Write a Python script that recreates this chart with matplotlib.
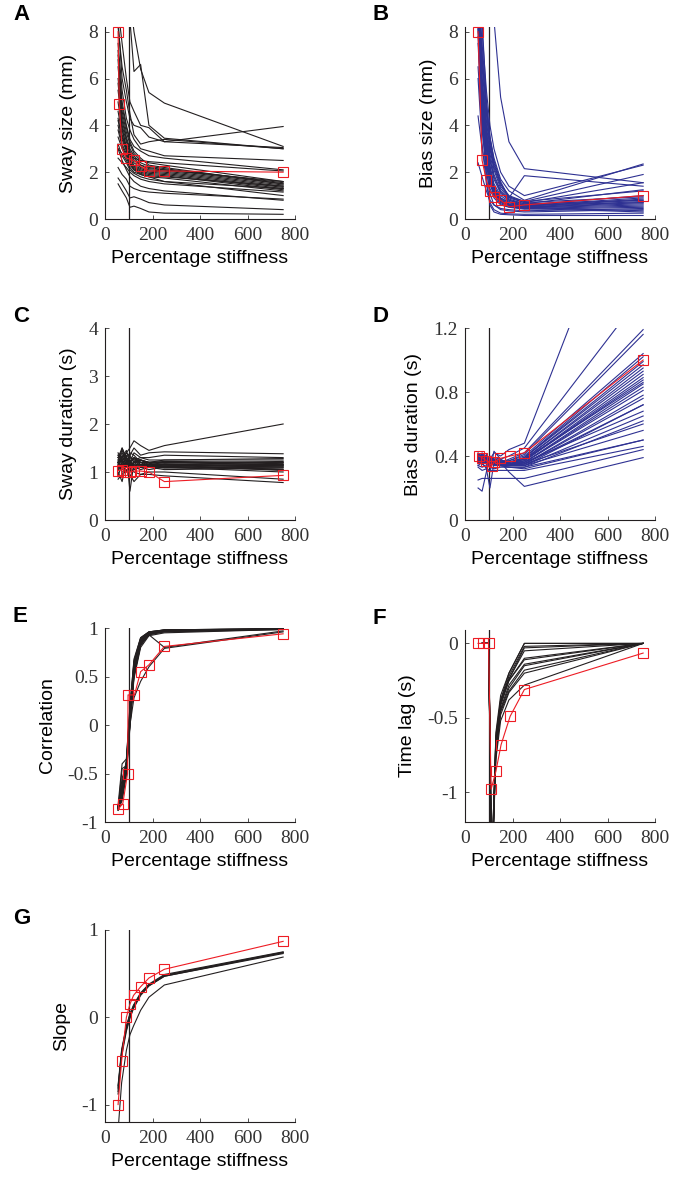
import numpy as np
import matplotlib
matplotlib.use("Agg")
import matplotlib.pyplot as plt

# stiffness levels (%) used for the subject lines
stiff = [55, 72, 90, 105, 122, 150, 185, 250, 750]

# A - sway size (mm), one row per subject
sway_size = [
    [14, 12, 10.5, 9.5, 8.0, 6.4, 5.4, 4.95, 3.1],
    [12, 10, 9.0, 8.5, 6.3, 6.6, 4.0, 3.45, 3.0],
    [9, 7.5, 6.0, 5.0, 4.6, 4.0, 3.9, 3.3, 3.95],
    [8.5, 6.0, 5.0, 4.3, 4.0, 3.9, 3.5, 3.3, 3.05],
    [8.2, 6.5, 5.5, 4.5, 3.6, 3.2, 3.3, 3.4, 3.0],
    [7.5, 5.5, 4.3, 3.8, 3.4, 3.0, 2.9, 2.7, 2.5],
    [7.0, 5.0, 4.0, 3.4, 3.1, 2.9, 2.7, 2.6, 2.1],
    [6.5, 4.6, 3.7, 3.2, 2.8, 2.5, 2.4, 2.3, 1.6],
    [6.0, 4.4, 3.5, 3.0, 2.7, 2.4, 2.25, 2.15, 1.55],
    [5.5, 4.0, 3.3, 2.8, 2.5, 2.3, 2.15, 2.1, 1.5],
    [5.0, 3.8, 3.1, 2.7, 2.4, 2.2, 2.1, 2.05, 1.45],
    [4.6, 3.6, 3.0, 2.6, 2.3, 2.15, 2.05, 2.0, 1.4],
    [4.3, 3.4, 2.9, 2.5, 2.25, 2.1, 2.0, 1.95, 1.35],
    [4.0, 3.2, 2.8, 2.4, 2.2, 2.05, 1.95, 1.9, 1.3],
    [3.8, 3.1, 2.7, 2.35, 2.15, 2.0, 1.9, 1.85, 1.25],
    [7.2, 4.8, 3.9, 3.3, 2.9, 2.6, 2.3, 2.2, 1.5],
    [3.5, 3.0, 2.6, 2.3, 2.1, 1.95, 1.85, 1.8, 1.4],
    [3.0, 2.8, 2.5, 2.2, 2.0, 1.9, 1.8, 1.75, 1.2],
    [6.8, 4.2, 3.4, 2.9, 2.6, 2.3, 2.2, 2.1, 1.6],
    [3.2, 2.7, 2.4, 2.1, 1.95, 1.8, 1.7, 1.6, 1.3],
    [2.6, 2.4, 2.2, 2.0, 1.85, 1.7, 1.6, 1.5, 1.15],
    [5.8, 3.9, 3.0, 2.4, 2.1, 1.9, 1.8, 1.6, 1.0],
    [3.0, 2.5, 2.1, 1.8, 1.6, 1.4, 1.3, 1.2, 0.8],
    [2.2, 1.9, 1.7, 1.4, 1.3, 1.2, 1.15, 1.1, 0.85],
    [1.75, 1.5, 1.2, 0.9, 0.95, 0.85, 0.7, 0.6, 0.4],
    [1.5, 1.2, 0.9, 0.5, 0.55, 0.45, 0.3, 0.25, 0.2],
    [4.2, 3.5, 3.0, 2.7, 2.6, 2.5, 2.45, 2.4, 2.05],
]
red_size_x = [55, 60, 72, 90, 122, 150, 185, 250, 750]
red_sway_size = [8.0, 4.9, 3.0, 2.6, 2.5, 2.25, 2.05, 2.05, 2.0]

# B - bias size (mm)
bias_size = [
    [20, 16, 12, 10, 8.5, 5.2, 3.3, 2.15, 1.55],
    [12, 8.5, 5.0, 3.5, 2.5, 1.6, 0.9, 1.85, 1.4],
    [11, 8, 5.5, 4.0, 3.0, 2.0, 1.4, 1.0, 2.3],
    [10, 7.5, 5.0, 3.5, 2.6, 1.7, 1.2, 0.8, 2.35],
    [9.5, 7.0, 4.5, 3.2, 2.3, 1.5, 1.0, 0.75, 1.9],
    [9, 6.5, 4.2, 3.0, 2.1, 1.3, 0.9, 0.7, 1.55],
    [8.8, 6.0, 4.0, 2.8, 1.9, 1.2, 0.85, 0.65, 1.25],
    [8.5, 5.5, 3.6, 2.5, 1.7, 1.1, 0.8, 0.6, 1.0],
    [8.4, 5.2, 3.3, 2.3, 1.5, 1.0, 0.75, 0.58, 0.9],
    [8.3, 5.0, 3.1, 2.1, 1.4, 0.9, 0.7, 0.55, 0.85],
    [8.6, 4.8, 3.0, 2.0, 1.3, 0.85, 0.65, 0.55, 0.8],
    [9.2, 4.6, 2.8, 1.9, 1.2, 0.8, 0.62, 0.52, 0.75],
    [10.5, 4.4, 2.6, 1.8, 1.15, 0.78, 0.6, 0.5, 0.7],
    [8.1, 4.2, 2.5, 1.7, 1.1, 0.75, 0.58, 0.5, 0.65],
    [7.5, 4.0, 2.4, 1.6, 1.05, 0.7, 0.55, 0.48, 0.6],
    [6.5, 3.8, 2.3, 1.5, 1.0, 0.65, 0.52, 0.45, 0.55],
    [4.4, 3.0, 2.0, 1.3, 0.9, 0.6, 0.5, 0.42, 0.5],
    [2.4, 1.8, 1.2, 0.8, 0.6, 0.45, 0.4, 0.35, 0.45],
    [9, 6.8, 4.8, 3.4, 2.4, 1.5, 0.95, 0.7, 0.95],
    [8.7, 5.8, 3.8, 2.6, 1.8, 1.15, 0.8, 0.65, 0.8],
    [8.2, 4.5, 2.2, 1.1, 0.6, 0.4, 0.35, 0.3, 0.4],
    [7.8, 4.0, 1.8, 0.6, 0.3, 0.2, 0.18, 0.15, 0.15],
    [6.0, 3.2, 1.5, 0.7, 0.4, 0.25, 0.22, 0.2, 0.25],
    [9.8, 6.0, 3.7, 2.2, 1.3, 0.8, 0.6, 0.5, 0.35],
    [8.9, 5.3, 3.2, 2.0, 1.2, 0.75, 0.55, 0.45, 0.3],
    [10, 7, 4.6, 3.1, 2.2, 1.4, 0.95, 0.75, 1.2],
    [8.6, 5.6, 3.4, 2.1, 1.35, 0.9, 0.7, 0.6, 0.7],
]
red_bias_size = [8.0, 2.5, 1.65, 1.2, 0.95, 0.8, 0.52, 0.6, 1.0]

# C - sway duration (s)
sway_dur = [
    [1.2, 1.3, 1.4, 1.5, 1.65, 1.55, 1.45, 1.55, 2.0],
    [1.3, 1.45, 1.2, 1.35, 1.5, 1.35, 1.4, 1.42, 1.38],
    [1.1, 1.5, 1.3, 1.2, 1.4, 1.3, 1.3, 1.35, 1.3],
    [1.25, 1.1, 1.35, 0.6, 1.2, 1.25, 1.2, 1.25, 1.25],
    [0.9, 1.2, 1.1, 1.3, 1.25, 1.2, 1.15, 1.2, 1.2],
    [1.4, 1.2, 1.25, 1.15, 1.3, 1.2, 1.2, 1.2, 1.15],
    [1.0, 0.8, 1.2, 1.1, 1.15, 1.15, 1.15, 1.15, 1.1],
    [1.35, 1.25, 1.1, 1.2, 1.1, 1.2, 1.1, 1.12, 1.05],
    [1.15, 1.35, 1.15, 1.0, 1.2, 1.1, 1.15, 1.1, 1.0],
    [1.05, 1.1, 1.3, 1.25, 1.05, 1.15, 1.1, 1.1, 1.12],
    [1.2, 1.0, 1.0, 1.1, 1.0, 0.95, 0.95, 0.92, 0.78],
    [0.85, 0.95, 1.05, 0.95, 0.8, 0.95, 1.0, 1.0, 0.85],
    [1.3, 1.2, 1.4, 1.3, 1.25, 1.3, 1.25, 1.25, 1.28],
    [1.25, 1.4, 1.2, 1.35, 1.2, 1.25, 1.2, 1.18, 1.22],
    [1.1, 1.15, 1.2, 1.05, 1.15, 1.1, 1.1, 1.15, 1.18],
    [1.15, 1.05, 1.1, 1.15, 1.1, 1.05, 1.1, 1.05, 1.08],
    [1.2, 1.25, 1.3, 1.4, 1.35, 1.2, 1.2, 1.2, 1.15],
    [1.3, 1.5, 1.25, 1.1, 1.2, 1.25, 1.15, 1.12, 1.14],
    [1.05, 1.2, 1.15, 1.2, 1.3, 1.15, 1.12, 1.08, 1.1],
    [1.2, 1.1, 1.2, 1.25, 1.05, 1.1, 1.05, 1.1, 1.05],
    [1.35, 1.3, 1.45, 1.2, 1.3, 1.25, 1.2, 1.22, 1.2],
    [1.1, 1.3, 1.0, 1.15, 1.2, 1.2, 1.18, 1.15, 1.03],
    [1.18, 1.22, 1.12, 1.18, 1.14, 1.16, 1.13, 1.13, 1.16],
    [1.22, 1.08, 1.18, 1.12, 1.22, 1.14, 1.16, 1.16, 1.13],
]
red_sway_dur = [1.03, 1.05, 1.0, 1.0, 1.02, 1.02, 1.0, 0.8, 0.93]

# D - bias duration (s)
bias_dur = [
    [0.38, 0.40, 0.36, 0.38, 0.42, 0.40, 0.44, 0.48, 2.4],
    [0.40, 0.36, 0.41, 0.37, 0.39, 0.38, 0.40, 0.45, 1.42],
    [0.37, 0.42, 0.38, 0.36, 0.37, 0.36, 0.38, 0.42, 1.19],
    [0.41, 0.38, 0.40, 0.35, 0.38, 0.37, 0.37, 0.41, 1.16],
    [0.39, 0.37, 0.35, 0.38, 0.36, 0.36, 0.37, 0.40, 1.04],
    [0.36, 0.40, 0.39, 0.33, 0.37, 0.35, 0.36, 0.39, 1.02],
    [0.42, 0.39, 0.37, 0.36, 0.35, 0.37, 0.36, 0.39, 0.97],
    [0.38, 0.35, 0.38, 0.39, 0.36, 0.35, 0.35, 0.38, 0.95],
    [0.40, 0.41, 0.36, 0.37, 0.38, 0.36, 0.35, 0.38, 0.93],
    [0.37, 0.38, 0.40, 0.34, 0.35, 0.34, 0.35, 0.37, 0.91],
    [0.39, 0.36, 0.37, 0.36, 0.37, 0.36, 0.35, 0.37, 0.89],
    [0.41, 0.40, 0.38, 0.38, 0.36, 0.35, 0.34, 0.37, 0.875],
    [0.38, 0.37, 0.35, 0.35, 0.38, 0.36, 0.35, 0.36, 0.85],
    [0.36, 0.39, 0.38, 0.37, 0.36, 0.34, 0.34, 0.36, 0.83],
    [0.40, 0.38, 0.36, 0.39, 0.37, 0.35, 0.34, 0.36, 0.81],
    [0.39, 0.41, 0.39, 0.36, 0.35, 0.35, 0.34, 0.35, 0.78],
    [0.37, 0.36, 0.37, 0.38, 0.37, 0.34, 0.34, 0.35, 0.76],
    [0.38, 0.40, 0.35, 0.33, 0.36, 0.36, 0.35, 0.35, 0.72],
    [0.41, 0.37, 0.38, 0.36, 0.35, 0.35, 0.34, 0.34, 0.72],
    [0.35, 0.38, 0.40, 0.37, 0.34, 0.34, 0.34, 0.34, 0.65],
    [0.39, 0.36, 0.37, 0.35, 0.36, 0.35, 0.35, 0.35, 0.60],
    [0.36, 0.35, 0.33, 0.30, 0.43, 0.38, 0.35, 0.34, 0.56],
    [0.38, 0.37, 0.36, 0.36, 0.35, 0.34, 0.33, 0.33, 0.50],
    [0.34, 0.33, 0.34, 0.33, 0.32, 0.33, 0.33, 0.32, 0.50],
    [0.33, 0.31, 0.32, 0.31, 0.31, 0.31, 0.31, 0.31, 0.46],
    [0.25, 0.26, 0.26, 0.26, 0.26, 0.26, 0.26, 0.26, 0.44],
    [0.20, 0.18, 0.30, 0.40, 0.38, 0.36, 0.30, 0.21, 0.39],
    [0.40, 0.39, 0.38, 0.37, 0.36, 0.35, 0.35, 0.36, 0.68],
    [0.37, 0.38, 0.39, 0.38, 0.37, 0.36, 0.36, 0.38, 0.86],
    [0.38, 0.37, 0.36, 0.37, 0.38, 0.37, 0.36, 0.39, 0.99],
    [0.34, 0.36, 0.32, 0.20, 0.36, 0.34, 0.33, 0.33, 0.62],
]
red_dur_x = [58, 72, 90, 112, 122, 148, 190, 250, 750]
red_bias_dur = [0.40, 0.39, 0.37, 0.34, 0.36, 0.385, 0.40, 0.42, 1.0]

# E - correlation
corr = [
    [-0.88, -0.75, -0.45, 0.05, 0.55, 0.85, 0.94, 0.97, 0.99],
    [-0.86, -0.70, -0.40, 0.10, 0.60, 0.87, 0.95, 0.97, 0.99],
    [-0.84, -0.65, -0.38, 0.15, 0.62, 0.88, 0.95, 0.98, 0.99],
    [-0.85, -0.55, -0.40, 0.08, 0.58, 0.86, 0.94, 0.97, 0.99],
    [-0.87, -0.45, -0.42, 0.12, 0.65, 0.89, 0.96, 0.98, 0.995],
    [-0.83, -0.40, -0.35, 0.20, 0.66, 0.90, 0.96, 0.98, 0.995],
    [-0.86, -0.72, -0.50, 0.00, 0.50, 0.82, 0.93, 0.96, 0.99],
    [-0.84, -0.68, -0.44, 0.05, 0.55, 0.84, 0.94, 0.96, 0.985],
    [-0.88, -0.78, -0.52, -0.02, 0.48, 0.80, 0.92, 0.95, 0.985],
    [-0.85, -0.62, -0.36, 0.18, 0.68, 0.90, 0.96, 0.98, 0.99],
    [-0.87, -0.74, -0.46, 0.02, 0.52, 0.84, 0.93, 0.80, 0.97],
    [-0.86, -0.70, -0.45, 0.00, 0.28, 0.45, 0.60, 0.79, 0.96],
    [-0.85, -0.66, -0.41, 0.07, 0.57, 0.86, 0.95, 0.97, 0.99],
    [-0.84, -0.60, -0.39, 0.13, 0.63, 0.88, 0.95, 0.975, 0.99],
    [-0.86, -0.71, -0.47, 0.03, 0.53, 0.83, 0.93, 0.965, 0.99],
    [-0.87, -0.76, -0.48, 0.01, 0.51, 0.82, 0.94, 0.97, 0.985],
]
red_corr_x = [55, 75, 95, 97, 124, 150, 185, 250, 750]
red_corr = [-0.87, -0.81, -0.5, 0.31, 0.31, 0.55, 0.62, 0.81, 0.94]

# F - time lag (s)
lag_x = [72, 100, 112, 130, 150, 185, 250, 750]
lag = [
    [0, 0, -1.6, -0.62, -0.38, -0.20, 0.0, 0.0],
    [0, 0, -1.5, -0.65, -0.40, -0.22, -0.02, 0.0],
    [0, 0, -1.7, -0.60, -0.35, -0.20, 0.0, 0.0],
    [0, 0, -1.55, -0.70, -0.42, -0.25, -0.10, 0.0],
    [0, 0, -1.6, -0.68, -0.40, -0.25, -0.11, 0.0],
    [0, 0, -1.65, -0.72, -0.44, -0.28, -0.14, 0.0],
    [0, 0, -1.5, -0.70, -0.45, -0.30, -0.15, 0.0],
    [0, 0, -1.6, -0.74, -0.46, -0.32, -0.18, 0.0],
    [0, 0, -1.55, -0.75, -0.48, -0.33, -0.20, 0.0],
    [0, 0, -1.6, -0.78, -0.52, -0.38, -0.28, 0.0],
    [0, 0, -1.7, -0.66, -0.38, -0.24, -0.05, 0.0],
    [0, 0, -1.5, -0.64, -0.40, -0.24, -0.03, 0.0],
]
red_lag_x = [55, 75, 99, 110, 130, 152, 190, 250, 750]
red_lag = [0, 0, 0, -0.98, -0.86, -0.68, -0.49, -0.31, -0.065]

# G - slope
slope_x = [55, 70, 90, 105, 120, 150, 185, 250, 750]
slope = [
    [-0.80, -0.40, -0.12, 0.02, 0.12, 0.27, 0.37, 0.48, 0.74],
    [-0.85, -0.42, -0.14, 0.00, 0.11, 0.26, 0.36, 0.47, 0.73],
    [-0.78, -0.37, -0.10, 0.04, 0.14, 0.28, 0.38, 0.49, 0.75],
    [-0.88, -0.45, -0.16, -0.01, 0.10, 0.25, 0.36, 0.47, 0.74],
    [-0.82, -0.39, -0.11, 0.03, 0.13, 0.27, 0.37, 0.48, 0.745],
    [-1.3, -0.75, -0.38, -0.20, -0.10, 0.08, 0.23, 0.37, 0.69],
]
red_slope = [-1.0, -0.5, 0.0, 0.15, 0.25, 0.35, 0.45, 0.55, 0.87]

BLACK = '#231f20'
BLUE = '#2e3192'
RED = '#ed1c24'
SERIF = 'Liberation Serif'
SANS = 'Liberation Sans'

W, H = 673.0, 1184.0


def make_axes(fig, left, top, bottom, letter):
    # pixel coords -> figure fraction
    ax = fig.add_axes([left / W, 1 - bottom / H, 190 / W, (bottom - top) / H])
    fig.text((left - 92) / W, 1 - (top - 12) / H, letter, fontsize=16,
             fontweight='bold', family=SANS, va='center', ha='left')
    return ax


def style_axes(ax, ylim, yticks, ylabels, ylabel):
    ax.set_xlim(0, 800)
    ax.set_ylim(*ylim)
    ax.set_xticks([0, 200, 400, 600, 800])
    ax.set_yticks(yticks)
    ax.set_yticklabels(ylabels)
    for s in ['top', 'right']:
        ax.spines[s].set_visible(False)
    for s in ['left', 'bottom']:
        ax.spines[s].set_linewidth(0.8)
        ax.spines[s].set_color(BLACK)
    ax.tick_params(direction='in', length=3, width=0.6, labelsize=14,
                   colors='#333333')
    ax.tick_params(axis='x', pad=6)
    ax.tick_params(axis='y', pad=5)
    for lab in ax.get_xticklabels() + ax.get_yticklabels():
        lab.set_family(SERIF)
    ax.set_xlabel('Percentage stiffness', fontsize=14, family=SANS, labelpad=4)
    ax.set_ylabel(ylabel, fontsize=14, family=SANS, labelpad=8)
    ax.axvline(100, color=BLACK, lw=0.9, zorder=1)


def draw_lines(ax, x, rows, color):
    for r in rows:
        ax.plot(x, r, color=color, lw=0.8, zorder=2)


def draw_red(ax, x, y):
    ax.plot(x, y, color=RED, lw=0.8, marker='s', ms=7, mfc='none',
            mec=RED, mew=0.8, zorder=3, clip_on=False)


fig = plt.figure(figsize=(6.73, 11.84), dpi=100)

# A
ax = make_axes(fig, 105, 27, 219, 'A')
draw_lines(ax, stiff, sway_size, BLACK)
draw_red(ax, red_size_x, red_sway_size)
style_axes(ax, (0, 8.2), [0, 2, 4, 6, 8], ['0', '2', '4', '6', '8'], 'Sway size (mm)')

# B
ax = make_axes(fig, 465, 27, 219, 'B')
draw_lines(ax, stiff, bias_size, BLUE)
draw_red(ax, stiff, red_bias_size)
style_axes(ax, (0, 8.2), [0, 2, 4, 6, 8], ['0', '2', '4', '6', '8'], 'Bias size (mm)')

# C
ax = make_axes(fig, 105, 328, 520, 'C')
draw_lines(ax, stiff, sway_dur, BLACK)
draw_red(ax, stiff, red_sway_dur)
style_axes(ax, (0, 4), [0, 1, 2, 3, 4], ['0', '1', '2', '3', '4'], 'Sway duration (s)')

# D
ax = make_axes(fig, 465, 328, 520, 'D')
draw_lines(ax, stiff, bias_dur, BLUE)
draw_red(ax, red_dur_x, red_bias_dur)
style_axes(ax, (0, 1.2), [0, 0.4, 0.8, 1.2], ['0', '0.4', '0.8', '1.2'], 'Bias duration (s)')

# E
ax = make_axes(fig, 105, 628, 822, 'E')
draw_lines(ax, stiff, corr, BLACK)
draw_red(ax, red_corr_x, red_corr)
style_axes(ax, (-1, 1), [-1, -0.5, 0, 0.5, 1], ['-1', '-0.5', '0', '0.5', '1'], 'Correlation')

# F
ax = make_axes(fig, 465, 630, 822, 'F')
draw_lines(ax, lag_x, lag, BLACK)
draw_red(ax, red_lag_x, red_lag)
style_axes(ax, (-1.2, 0.09), [-1, -0.5, 0], ['-1', '-0.5', '0'], 'Time lag (s)')

# G
ax = make_axes(fig, 105, 930, 1122, 'G')
draw_lines(ax, slope_x, slope[:-1], BLACK)
ax.plot(slope_x, slope[-1], color=BLACK, lw=0.8, zorder=2)
draw_red(ax, slope_x, red_slope)
style_axes(ax, (-1.2, 1), [-1, 0, 1], ['-1', '0', '1'], 'Slope')

fig.savefig('out.png', dpi=100)
